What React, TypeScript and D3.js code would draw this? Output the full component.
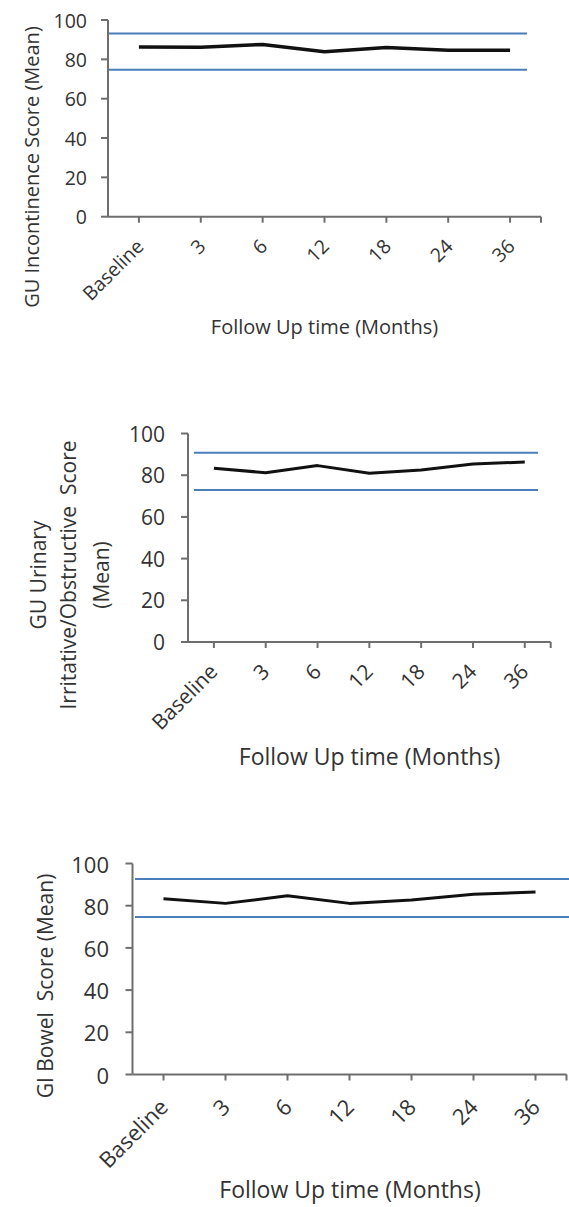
import * as d3 from "d3"

// Follow-up time points (x categories)
const months = ["Baseline", "3", "6", "12", "18", "24", "36"]
const yTicks = [0, 20, 40, 60, 80, 100]

// Mean scores per time point
const incontinence = [86.3, 86.1, 87.6, 83.9, 86.0, 84.6, 84.6]
const irritative = [83.3, 81.2, 84.6, 80.9, 82.5, 85.4, 86.3]
const bowel = [83.3, 81.1, 84.7, 81.1, 82.7, 85.4, 86.5]

// Reference band (lower, upper) drawn as blue lines
const incontinenceBand = [74.7, 93.2]
const irritativeBand = [72.9, 90.8]
const bowelBand = [74.6, 92.7]

const xTitle = "Follow Up time (Months)"
const incontinenceTitle = ["GU Incontinence Score (Mean)"]
const irritativeTitle = ["GU Urinary", "Irritative/Obstructive  Score", "(Mean)"]
const bowelTitle = ["GI Bowel  Score (Mean)"]

const FONT = "'Open Sans', 'Noto Sans', sans-serif"
const TEXT = "#333333"
const AXIS = "#6e6e6e"
const BLUE = "#4a7ebb"

interface PanelCfg {
  left: number
  right: number
  top: number
  bottom: number
  bandX0: number
  bandX1: number
  tickLabelX: number
  tickFont: number
  tickDx: number
  tickDy: number
  yTitleX: number[]
  yTitleY: number
  yTitleFont: number
  xTitleX: number
  xTitleY: number
  xTitleFont: number
  lineWidth: number
}

const panels: { cfg: PanelCfg; values: number[]; band: number[]; title: string[] }[] = [
  {
    values: incontinence,
    band: incontinenceBand,
    title: incontinenceTitle,
    cfg: {
      left: 108, right: 541, top: 20, bottom: 216.7,
      bandX0: 108, bandX1: 527,
      tickLabelX: 87, tickFont: 19.5, tickDx: 6, tickDy: 31,
      yTitleX: [31], yTitleY: 167, yTitleFont: 20,
      xTitleX: 324.5, xTitleY: 326, xTitleFont: 20,
      lineWidth: 3.5,
    },
  },
  {
    values: irritative,
    band: irritativeBand,
    title: irritativeTitle,
    cfg: {
      left: 188, right: 550.7, top: 433.5, bottom: 642,
      bandX0: 194, bandX1: 538,
      tickLabelX: 165, tickFont: 21, tickDx: 5, tickDy: 31,
      yTitleX: [38, 68, 101], yTitleY: 575, yTitleFont: 21,
      xTitleX: 369.5, xTitleY: 756, xTitleFont: 23,
      lineWidth: 3,
    },
  },
  {
    values: bowel,
    band: bowelBand,
    title: bowelTitle,
    cfg: {
      left: 132.5, right: 566.5, top: 863.5, bottom: 1074.5,
      bandX0: 135, bandX1: 569,
      tickLabelX: 109, tickFont: 22, tickDx: 6, tickDy: 34,
      yTitleX: [45], yTitleY: 986, yTitleFont: 21,
      xTitleX: 350, xTitleY: 1189, xTitleFont: 23,
      lineWidth: 3,
    },
  },
]

function Panel({ cfg, values, band, title }: { cfg: PanelCfg; values: number[]; band: number[]; title: string[] }) {
  const x = d3.scalePoint<string>().domain(months).range([cfg.left, cfg.right]).padding(0.5)
  const y = d3.scaleLinear().domain([0, 100]).range([cfg.bottom, cfg.top])

  const line = d3
    .line<number>()
    .x((_, i) => x(months[i]) as number)
    .y((d) => y(d))

  const tickLen = 7

  return (
    <g fontFamily={FONT} fill={TEXT}>
      {/* reference band */}
      {band.map((b, i) => (
        <line key={i} x1={cfg.bandX0} x2={cfg.bandX1} y1={y(b)} y2={y(b)} stroke={BLUE} strokeWidth={2} />
      ))}

      {/* y axis */}
      <line x1={cfg.left} x2={cfg.left} y1={y(100)} y2={y(0)} stroke={AXIS} strokeWidth={2} />
      {yTicks.map((t) => (
        <g key={t}>
          <line x1={cfg.left - tickLen} x2={cfg.left} y1={y(t)} y2={y(t)} stroke={AXIS} strokeWidth={2} />
          <text x={cfg.tickLabelX} y={y(t)} textAnchor="end" dominantBaseline="central" fontSize={cfg.tickFont}>
            {t}
          </text>
        </g>
      ))}

      {/* x axis */}
      <line x1={cfg.left} x2={cfg.right} y1={y(0)} y2={y(0)} stroke={AXIS} strokeWidth={2} />
      {[...months.map((m) => x(m) as number), cfg.right].map((px, i) => (
        <line key={i} x1={px} x2={px} y1={y(0)} y2={y(0) + 6} stroke={AXIS} strokeWidth={2} />
      ))}
      {months.map((m) => (
        <text
          key={m}
          transform={`translate(${(x(m) as number) + cfg.tickDx},${y(0) + cfg.tickDy}) rotate(-45)`}
          textAnchor="end"
          fontSize={cfg.tickFont}
        >
          {m}
        </text>
      ))}

      {/* series */}
      <path d={line(values) ?? ""} fill="none" stroke="#111" strokeWidth={cfg.lineWidth} strokeLinejoin="round" />

      {/* titles */}
      {title.map((t, i) => (
        <text
          key={i}
          transform={`translate(${cfg.yTitleX[i]},${cfg.yTitleY}) rotate(-90)`}
          textAnchor="middle"
          dominantBaseline="central"
          fontSize={cfg.yTitleFont}
        >
          {t.replace(/ /g, "\u00a0")}
        </text>
      ))}
      <text x={cfg.xTitleX} y={cfg.xTitleY} textAnchor="middle" dominantBaseline="central" fontSize={cfg.xTitleFont}>
        {xTitle}
      </text>
    </g>
  )
}

export default function App() {
  return (
    <svg
      width={569}
      height={1207}
      viewBox="0 0 569 1207"
      style={{ position: "absolute", left: 0, top: 0, background: "#fff" }}
    >
      <rect width={569} height={1207} fill="#fff" />
      {panels.map((p, i) => (
        <Panel key={i} cfg={p.cfg} values={p.values} band={p.band} title={p.title} />
      ))}
    </svg>
  )
}
